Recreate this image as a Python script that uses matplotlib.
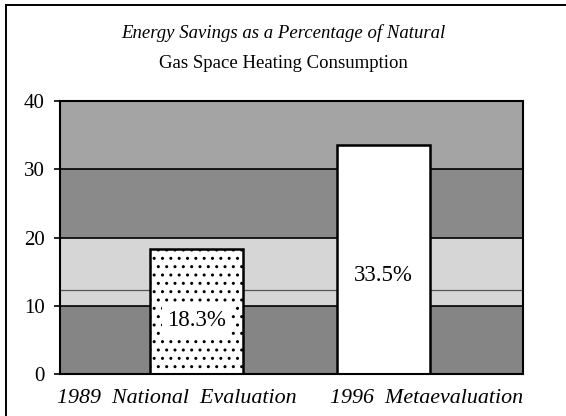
import matplotlib.pyplot as plt
from matplotlib.lines import Line2D

# Chart data
categories = ['1989  National  Evaluation', '1996  Metaevaluation']
savings = [18.3, 33.5]
value_labels = ['18.3%', '33.5%']
label_heights = [7.9, 14.5]
y_ticks = [0, 10, 20, 30, 40]

plt.rcParams['font.family'] = ['Liberation Serif', 'DejaVu Serif']

fig = plt.figure(figsize=(5.66, 4.16), dpi=100)
ax = fig.add_axes([0.106, 0.101, 0.818, 0.656])

# outer frame: only left and top edges show in the scan
fx, fy = 6 / 566, 1 - 5 / 416
fig.add_artist(Line2D([fx, fx], [0, fy], transform=fig.transFigure,
                      color='black', lw=1.4))
fig.add_artist(Line2D([fx, 1], [fy, fy], transform=fig.transFigure,
                      color='black', lw=1.4))

# shaded background bands
ax.axhspan(0, 10, color='#858585', zorder=0, lw=0)
ax.axhspan(10, 20, color='#d6d6d6', zorder=0, lw=0)
ax.axhspan(20, 30, color='#8a8a8a', zorder=0, lw=0)
ax.axhspan(30, 40, color='#a4a4a4', zorder=0, lw=0)
ax.axhline(12.3, color='#555555', lw=0.9, zorder=0.5)
for y in y_ticks[1:-1]:
    ax.axhline(y, color='black', lw=1.2, zorder=1)

x = range(len(categories))
ax.bar(x[0], savings[0], width=0.5, color='white', edgecolor='black',
       linewidth=1.8, hatch='..', zorder=2)
ax.bar(x[1], savings[1], width=0.5, color='white', edgecolor='black',
       linewidth=1.8, zorder=2)
for i in x:
    ax.text(i, label_heights[i], value_labels[i], ha='center', va='center',
            fontsize=16.5, zorder=3,
            bbox=dict(facecolor='white', edgecolor='none', pad=4) if i == 0 else None)

ax.set_xlim(-0.73, 1.745)
ax.set_ylim(0, 40)
ax.set_yticks(y_ticks)
ax.set_yticklabels([str(t) for t in y_ticks], fontsize=15)
ax.tick_params(axis='y', length=4, width=1.2, pad=7)
ax.set_xticks([])
for s in ax.spines.values():
    s.set_linewidth(1.5)

# category labels aligned to the axis ends
ax.text(-0.007, -0.055, categories[0], transform=ax.transAxes, ha='left',
        va='top', fontsize=15.8, style='italic')
ax.text(1, -0.055, categories[1], transform=ax.transAxes, ha='right',
        va='top', fontsize=15.8, style='italic')

fig.text(0.5, 0.92, 'Energy Savings as a Percentage of Natural', ha='center',
         va='center', fontsize=13.5, style='italic')
fig.text(0.5, 0.848, 'Gas Space Heating Consumption', ha='center',
         va='center', fontsize=13.5)

plt.savefig('out.png', dpi=100)
plt.close()
